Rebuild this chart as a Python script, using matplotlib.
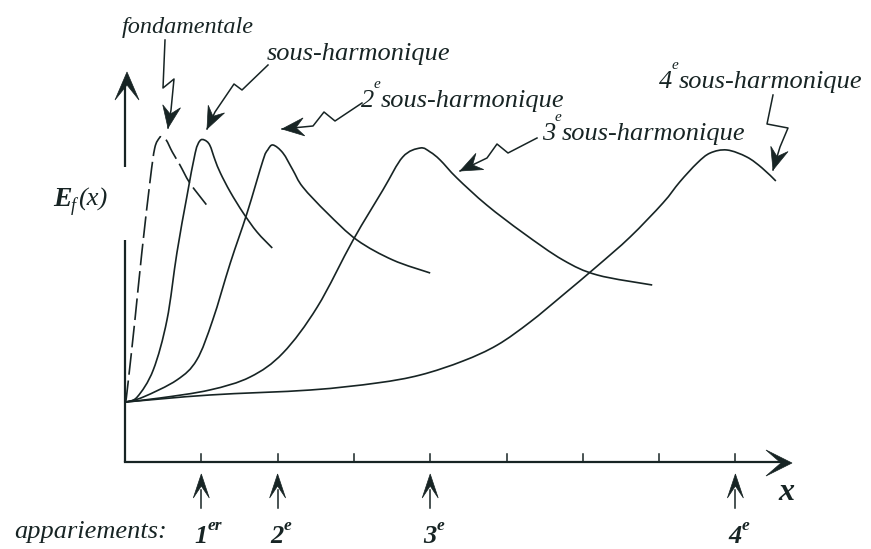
import numpy as np
import matplotlib
matplotlib.use("Agg")
import matplotlib.pyplot as plt
from matplotlib.path import Path
from matplotlib.patches import PathPatch, Polygon

# x in units of the period-doubling ticks, y = E_f(x) (arbitrary units, axis at 0)
fond_x = [0.01, 0.04, 0.13, 0.22, 0.33, 0.39, 0.45, 0.48, 0.54, 0.62, 0.72, 0.85, 1.07]
fond_y = [0.60, 0.79, 1.42, 2.09, 2.82, 3.14, 3.24, 3.25, 3.22, 3.10, 2.97, 2.79, 2.57]

sub1_x = [0.01, 0.16, 0.37, 0.55, 0.68, 0.81, 0.92, 0.98, 1.04, 1.11, 1.18, 1.25, 1.38, 1.55, 1.73, 1.93]
sub1_y = [0.60, 0.65, 0.92, 1.42, 2.09, 2.65, 3.09, 3.21, 3.22, 3.17, 3.02, 2.89, 2.70, 2.49, 2.30, 2.14]

sub2_x = [0.01, 0.24, 0.68, 0.94, 1.15, 1.38, 1.60, 1.81, 1.87, 1.94, 2.07, 2.20, 2.33, 2.65, 3.04, 3.51, 4.00]
sub2_y = [0.60, 0.65, 0.82, 1.02, 1.42, 1.99, 2.49, 3.02, 3.12, 3.17, 3.09, 2.92, 2.75, 2.49, 2.22, 2.02, 1.89]

sub3_x = [0.01, 0.46, 1.11, 1.64, 2.07, 2.52, 2.99, 3.38, 3.64, 3.87, 4.00, 4.13, 4.35, 4.74, 5.22, 5.74, 6.19, 6.91]
sub3_y = [0.60, 0.64, 0.72, 0.85, 1.09, 1.55, 2.22, 2.72, 3.05, 3.14, 3.10, 3.02, 2.84, 2.57, 2.29, 2.02, 1.87, 1.77]

sub4_x = [0.01, 1.11, 2.43, 3.30, 3.87, 4.43, 4.88, 5.31, 5.74, 6.19, 6.62, 7.05, 7.27, 7.50, 7.67, 7.89, 8.15, 8.35, 8.53]
sub4_y = [0.60, 0.67, 0.72, 0.79, 0.87, 1.01, 1.17, 1.40, 1.67, 1.96, 2.25, 2.59, 2.80, 2.99, 3.09, 3.12, 3.05, 2.94, 2.81]

tick_x = [1, 2, 3, 4, 5, 6, 7, 8]
pair_x = [1, 2, 4, 8]
pair_num = ["1", "2", "3", "4"]
pair_sup = ["er", "e", "e", "e"]

INK = "#172424"
SERIF = "Liberation Serif"

# page layout: pixel -> data (axes corner at pixel 125, 462)
W, H = 871, 549
X0, Y0, SX, SY = 125, 462, 76.3, 100.0
def P(px, py):
    return (px - X0) / SX, (Y0 - py) / SY

fig = plt.figure(figsize=(W / 100, H / 100), dpi=100)
ax = fig.add_axes([0, 0, 1, 1])
ax.set_xlim(P(0, 0)[0], P(W, 0)[0])
ax.set_ylim(P(0, H)[1], P(0, 0)[1])
ax.axis("off")

def smooth(xs, ys, **kw):
    # catmull-rom through the read points, drawn as bezier segments
    p = np.column_stack([xs, ys])
    verts, codes = [p[0]], [Path.MOVETO]
    for i in range(len(p) - 1):
        p0 = p[max(i - 1, 0)]; p1 = p[i]; p2 = p[i + 1]; p3 = p[min(i + 2, len(p) - 1)]
        verts += [p1 + (p2 - p0) / 6, p2 - (p3 - p1) / 6, p2]
        codes += [Path.CURVE4] * 3
    ax.add_patch(PathPatch(Path(verts, codes), fill=False, edgecolor=INK, **kw))

def head(tip, prev, L=22, w=9, notch=8):
    # notched arrow head, built in pixel space
    t = np.array(tip, float); d = t - np.array(prev, float)
    d /= np.hypot(*d); n = np.array([-d[1], d[0]])
    pts = [t, t - L * d + w * n, t - (L - notch) * d, t - L * d - w * n]
    ax.add_patch(Polygon([P(*q) for q in pts], closed=True, facecolor=INK,
                         edgecolor=INK, lw=0.5, zorder=4))

def zigzag(pix, **kw):
    ax.plot(*zip(*[P(*q) for q in pix]), color=INK, lw=1.1)
    head(pix[-1], pix[-2], **kw)

# axes
ax.plot([0, 0], [0, P(0, 240)[1]], color=INK, lw=1.6, solid_capstyle="butt")
ax.plot([0, 0], [P(0, 167)[1], P(0, 80)[1]], color=INK, lw=1.6, solid_capstyle="butt")
head((127, 72), (127, 200), L=28, w=12, notch=15)
ax.plot([0, P(785, 0)[0]], [0, 0], color=INK, lw=1.6)
head((792, 463), (600, 463), L=26, w=13, notch=15)
for t in tick_x:
    ax.plot([t, t], [0, 0.08], color=INK, lw=1.1)

# curves
smooth(fond_x, fond_y, lw=1.2, linestyle=(0, (13, 3.5)))
for xs, ys in [(sub1_x, sub1_y), (sub2_x, sub2_y), (sub3_x, sub3_y), (sub4_x, sub4_y)]:
    smooth(xs, ys, lw=1.2)

# pointers to the peaks
zigzag([(165, 40), (163, 88), (174, 79), (171, 110), (168, 128)])
zigzag([(268, 65), (242, 90), (234, 84), (215, 112), (207, 129)])
zigzag([(362, 103), (335, 121), (324, 112), (313, 126), (282, 129)])
zigzag([(537, 138), (508, 153), (497, 144), (487, 158), (460, 171)])
zigzag([(773, 95), (767, 124), (788, 128), (780, 147), (773, 170)])

txt = dict(family=SERIF, style="italic", color=INK, ha="left", va="baseline")
ax.text(*P(122, 33), "fondamentale", fontsize=17.5, **txt)
ax.text(*P(267, 60), "sous-harmonique", fontsize=19, **txt)
for num, (lx, by) in zip(["2", "3", "4"], [(361, 107), (542, 140), (659, 88)]):
    ax.text(*P(lx, by), num, fontsize=19, **txt)
    ax.text(*P(lx + 13, by - 19), "e", fontsize=11, **txt)
    ax.text(*P(lx + 20, by), "sous-harmonique", fontsize=19, **txt)

ax.text(*P(53, 206), "E", fontsize=20, weight="bold", **txt)
ax.text(*P(71, 211), "f", fontsize=13, **txt)
ax.text(*P(78, 206), "(x)", fontsize=19, **txt)
ax.text(*P(778, 500), "x", fontsize=23, weight="bold", **txt)

# pairing markers under the axis
ax.text(*P(14, 538), "appariements:", fontsize=19, **txt)
for px_, num, sup in zip(pair_x, pair_num, pair_sup):
    ax.plot([px_, px_], [P(0, 490)[1], P(0, 508)[1]], color=INK, lw=1.1)
    lx = X0 + px_ * SX
    head((lx, 474), (lx, 508), L=24, w=8, notch=12)
    ax.text(*P(lx - 7, 543), num, fontsize=19, weight="bold", **txt)
    ax.text(*P(lx + 6, 530), sup, fontsize=12.5, weight="bold", **txt)

fig.savefig("out.png", dpi=100)
